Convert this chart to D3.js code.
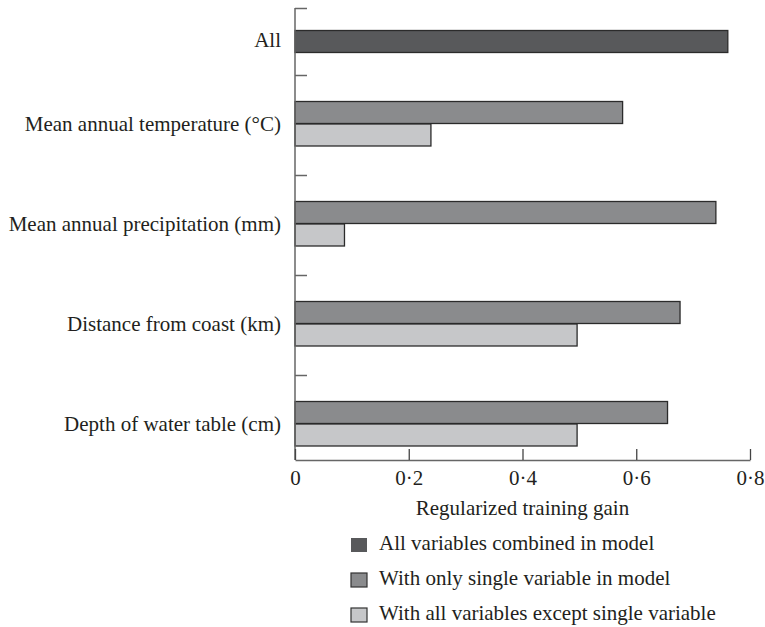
<!DOCTYPE html>
<html>
<head>
<meta charset="utf-8">
<script src="https://cdn.jsdelivr.net/npm/d3@7"></script>
<style>
  body { margin: 0; background: #fff; }
  svg { display: block; }
  text { font-family: "Liberation Serif", "Times New Roman", serif; fill: #231f20; }
</style>
</head>
<body>
<svg id="chart" width="765" height="627"></svg>
<script>
// ---- data ----
const categories = [
  "All",
  "Mean annual temperature (°C)",
  "Mean annual precipitation (mm)",
  "Distance from coast (km)",
  "Depth of water table (cm)"
];
const allCombined = [0.761, null, null, null, null];
const singleOnly = [null, 0.576, 0.740, 0.677, 0.655];
const allExcept = [null, 0.239, 0.087, 0.496, 0.496];
const xTicks = [0, 0.2, 0.4, 0.6, 0.8];
const seriesNames = [
  "All variables combined in model",
  "With only single variable in model",
  "With all variables except single variable"
];
const seriesColors = ["#58595b", "#8a8b8d", "#c6c7c9"];

// ---- layout ----
const svg = d3.select("#chart");
const x0 = 295, x1 = 750, yTop = 8, yAxis = 460;
const fontSize = 21;

const x = d3.scaleLinear().domain([0, 0.8]).range([x0, x1]);
// category index -> vertical position (piecewise: "All" row is narrower)
const y = d3.scaleLinear().domain([-0.5, 0.5, 4.35]).range([yTop, 75, yAxis]);
const barH = 22;

// bars
const rows = [];
categories.forEach((c, i) => {
  if (allCombined[i] != null) rows.push({i, v: allCombined[i], s: 0, off: -barH / 2});
  if (singleOnly[i] != null) rows.push({i, v: singleOnly[i], s: 1, off: -barH - 1.5});
  if (allExcept[i] != null) rows.push({i, v: allExcept[i], s: 2, off: -1.5 + 0.5});
});

svg.append("g").selectAll("rect").data(rows).join("rect")
  .attr("x", x(0))
  .attr("y", d => y(d.i) + d.off)
  .attr("width", d => x(d.v) - x(0))
  .attr("height", barH)
  .attr("fill", d => seriesColors[d.s])
  .attr("stroke", "#2b2b2b")
  .attr("stroke-width", 1.3);

// y axis (ticks pointing inward)
const yAx = svg.append("g").attr("transform", `translate(${x0},0)`)
  .call(d3.axisLeft(y).tickValues([-0.5, 0.5, 1.5, 2.5, 3.5]).tickSize(-12).tickSizeOuter(0).tickFormat(""));
yAx.select(".domain").remove();
yAx.selectAll(".tick line").attr("stroke", "#666").attr("stroke-width", 1.5);
svg.append("line").attr("x1", x0).attr("x2", x0).attr("y1", yTop).attr("y2", yAxis)
  .attr("stroke", "#666").attr("stroke-width", 1.5);

// category labels
svg.append("g").selectAll("text").data(categories).join("text")
  .attr("x", 281)
  .attr("y", (d, i) => y(i) - 1.5)
  .attr("dy", "0.35em")
  .attr("text-anchor", "end")
  .attr("font-size", fontSize)
  .text(d => d);

// x axis
const fmt = d => d === 0 ? "0" : d3.format(".1f")(d).replace(".", "·");
const xAx = svg.append("g").attr("transform", `translate(0,${yAxis})`)
  .call(d3.axisBottom(x).tickValues(xTicks).tickSize(-11).tickSizeOuter(0).tickPadding(10).tickFormat(fmt));
xAx.select(".domain").attr("stroke", "#666").attr("stroke-width", 1.5);
xAx.selectAll(".tick line").attr("stroke", "#444").attr("stroke-width", 1.3);
xAx.selectAll(".tick text")
  .attr("font-size", fontSize)
  .attr("font-family", "Liberation Serif, serif")
  .attr("fill", "#231f20");

// x axis title
svg.append("text")
  .attr("x", (x0 + x1) / 2)
  .attr("y", 515)
  .attr("text-anchor", "middle")
  .attr("font-size", fontSize)
  .text("Regularized training gain");

// legend
const leg = svg.append("g").selectAll("g").data(seriesNames).join("g")
  .attr("transform", (d, i) => `translate(351,${538 + i * 35})`);
leg.append("rect")
  .attr("width", 16).attr("height", 14)
  .attr("fill", (d, i) => seriesColors[i])
  .attr("stroke", (d, i) => i === 0 ? "none" : "#333")
  .attr("stroke-width", 1.2);
leg.append("text")
  .attr("x", 28)
  .attr("y", 12)
  .attr("font-size", fontSize)
  .text(d => d);
</script>
</body>
</html>
